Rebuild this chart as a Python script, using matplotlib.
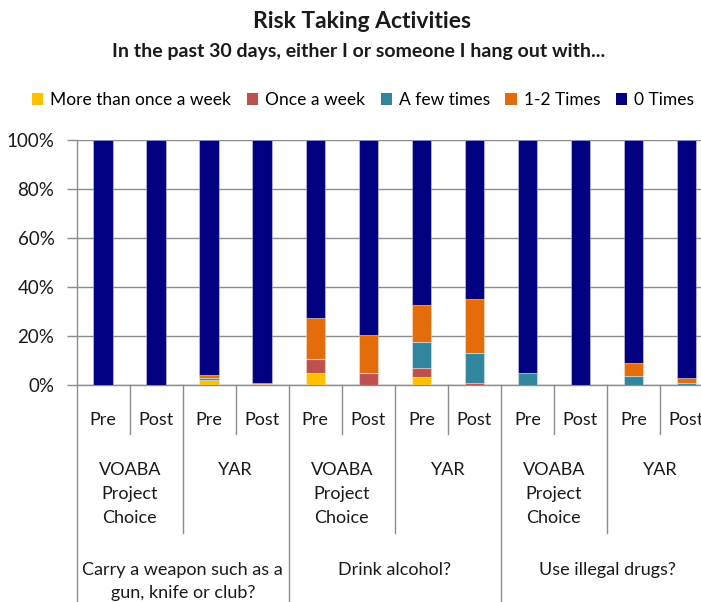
import numpy as np
import matplotlib
matplotlib.use("Agg")
import matplotlib.pyplot as plt
from matplotlib.patches import Patch

plt.rcParams['font.family'] = ['Lato', 'DejaVu Sans']

# survey answers, % of respondents (bars ordered left to right)
phase = ["Pre", "Post"] * 6
programs = ["VOABA\nProject\nChoice", "YAR"] * 3
questions = ["Carry a weapon such as a\ngun, knife or club?",
             "Drink alcohol?", "Use illegal drugs?"]

more_than_once = [0, 0, 2.0, 0, 5.1, 0, 3.2, 0, 0, 0, 0, 0]
once_a_week = [0, 0, 0, 0.4, 5.5, 4.9, 3.7, 0.8, 0, 0, 0, 0]
few_times = [0, 0, 1.0, 0, 0, 0, 10.7, 12.3, 5.1, 0, 3.7, 0.8]
one_two = [0, 0, 1.2, 0.4, 16.8, 15.6, 14.9, 21.8, 0, 0, 5.1, 2.2]
zero_times = [100, 100, 95.8, 99.2, 72.6, 79.5, 67.5, 65.1, 94.9, 100, 91.2, 97.0]

series = [
    ("More than once a week", more_than_once, "#FFC000"),
    ("Once a week", once_a_week, "#C0504D"),
    ("A few times", few_times, "#31859C"),
    ("1-2 Times", one_two, "#E46C0A"),
    ("0 Times", zero_times, "#000080"),
]

W, H = 701, 602
fig = plt.figure(figsize=(W / 100, H / 100), dpi=100)
ax_l, ax_r, ax_t, ax_b = 76.7, 713.0, 140.0, 385.0
ax = fig.add_axes([ax_l / W, 1 - ax_b / H, (ax_r - ax_l) / W, (ax_b - ax_t) / H])

x = np.arange(len(phase))
bottom = np.zeros(len(phase))
for name, vals, col in series:
    vals = np.array(vals, dtype=float)
    ax.bar(x, vals, width=0.37, bottom=bottom, color=col, label=name,
           edgecolor=(1, 1, 1, 0.35), linewidth=0.8, zorder=3)
    bottom += vals

ax.set_xlim(-0.5, len(phase) - 0.5)
ax.set_ylim(0, 100)
ax.set_yticks(np.arange(0, 101, 20))
ax.set_yticklabels([f"{v}%" for v in range(0, 101, 20)], fontsize=13.5, color="#1a1a1a")
ax.tick_params(axis='y', length=7, width=1, color="#8c8c8c", pad=9)
ax.tick_params(axis='x', length=0, labelbottom=False)
ax.grid(axis='y', color="#8c8c8c", linewidth=1, zorder=0)
for s in ["top", "right"]:
    ax.spines[s].set_visible(False)
for s in ["left", "bottom"]:
    ax.spines[s].set_color("#8c8c8c")
    ax.spines[s].set_linewidth(1)

# category table under the axis, positioned in pixels below the x-axis
axh = ax_b - ax_t
def ypix(py):
    return (ax_b - py) / axh

tr = ax.get_xaxis_transform()
line_kw = dict(color="#8c8c8c", linewidth=1, transform=tr, clip_on=False)

for b in np.arange(-0.5, len(phase), 1.0):
    i = int(b + 0.5)
    if i % 4 == 0:
        end = 640
    elif i % 2 == 0:
        end = 533
    else:
        end = 434
    ax.plot([b, b], [0, ypix(end)], **line_kw)

def put_lines(xc, y_first, text, step):
    for k, line in enumerate(text.split("\n")):
        ax.text(xc, ypix(y_first + k * step), line, transform=tr,
                ha='center', va='center', fontsize=13, color="#1a1a1a")

for i, p in enumerate(phase):
    put_lines(i, 420, p, 0)
for g, prog in enumerate(programs):
    put_lines(2 * g + 0.5, 470, prog, 24)
for q, quest in enumerate(questions):
    put_lines(4 * q + 1.5, 570, quest, 23)

fig.text(362 / W, 1 - 22 / H, "Risk Taking Activities", ha='center', va='center',
         fontsize=16.5, fontweight='bold', color="#1a1a1a")
fig.text(359 / W, 1 - 52 / H, "In the past 30 days, either I or someone I hang out with...",
         ha='center', va='center', fontsize=14, fontweight='bold', color="#1a1a1a")

handles = [Patch(facecolor=c, edgecolor='none') for _, _, c in series]
fig.legend(handles, [n for n, _, _ in series], loc='center', ncol=5,
           bbox_to_anchor=(363 / W, 1 - 100 / H), frameon=False, fontsize=12.5,
           handlelength=0.65, handleheight=0.65, handletextpad=0.4,
           columnspacing=0.9, borderpad=0)

fig.savefig("out.png", dpi=100)
